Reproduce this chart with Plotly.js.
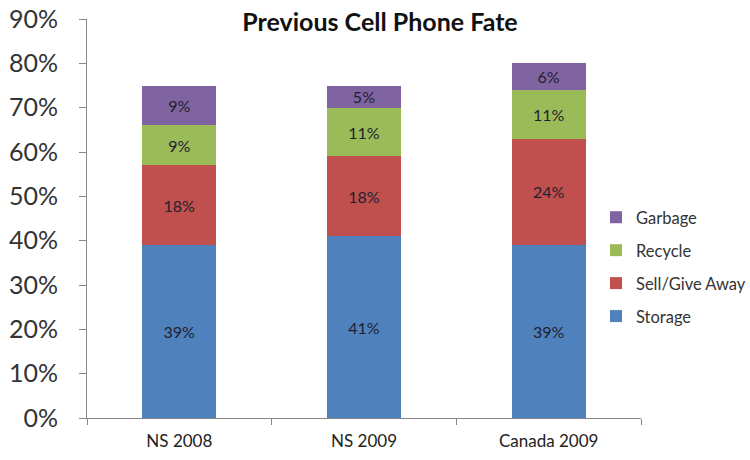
<!DOCTYPE html>
<html>
<head>
<meta charset="utf-8">
<script src="https://cdn.plot.ly/plotly-3.0.1.min.js"></script>
<style>
  html, body { margin: 0; padding: 0; background: #fff; }
  #chart { width: 750px; height: 460px; }
</style>
</head>
<body>
<div id="chart"></div>
<script>
// Survey groups along the x axis
const groups = ['NS 2008', 'NS 2009', 'Canada 2009'];

// Share of respondents (%) per fate of the previous phone
const storage  = [39, 41, 39];
const sellGive = [18, 18, 24];
const recycle  = [9, 11, 11];
const garbage  = [9, 5, 6];

const seriesNames = ['Storage', 'Sell/Give Away', 'Recycle', 'Garbage'];
const seriesValues = [storage, sellGive, recycle, garbage];
const seriesColors = ['#4F81BD', '#C0504D', '#9BBB59', '#8064A2'];

const FONT = 'Lato, "Open Sans", "Noto Sans", sans-serif';

const traces = seriesNames.map((name, i) => ({
  type: 'bar',
  name: name,
  x: groups,
  y: seriesValues[i],
  legendgroup: name,
  // top segment first in the legend
  legendrank: seriesNames.length - i,
  marker: { color: seriesColors[i], line: { width: 0 } },
  text: seriesValues[i].map(v => v + '%'),
  textposition: 'inside',
  insidetextanchor: 'middle',
  textangle: 0,
  textfont: { family: FONT, size: 16, color: '#1f1f2e' },
  hoverinfo: 'skip'
}));

const layout = {
  width: 750,
  height: 460,
  barmode: 'stack',
  bargap: 0.6,
  paper_bgcolor: '#ffffff',
  plot_bgcolor: '#ffffff',
  margin: { l: 87, r: 109, t: 19, b: 42, autoexpand: false },
  font: { family: FONT, color: '#333333' },
  uniformtext: { mode: 'show', minsize: 16 },
  title: {
    text: '<b>Previous Cell Phone Fate</b>',
    font: { family: FONT, size: 25, color: '#111111' },
    x: 380 / 750,
    xanchor: 'center',
    xref: 'container',
    y: 1 - 22 / 460,
    yanchor: 'middle',
    yref: 'container'
  },
  xaxis: {
    type: 'category',
    showgrid: false,
    showline: true,
    linecolor: '#868686',
    linewidth: 1,
    ticks: 'outside',
    tickson: 'boundaries',
    ticklen: 6,
    tickcolor: '#868686',
    tickfont: { family: FONT, size: 17, color: '#222222' },
    ticklabelstandoff: 8,
    zeroline: false
  },
  yaxis: {
    range: [0, 90],
    dtick: 10,
    tick0: 0,
    ticksuffix: '%',
    showgrid: false,
    showline: true,
    linecolor: '#868686',
    linewidth: 1,
    ticks: 'outside',
    ticklen: 7,
    tickcolor: '#868686',
    tickfont: { family: FONT, size: 25, color: '#333333' },
    ticklabelstandoff: 16,
    zeroline: false
  },
  showlegend: true,
  legend: {
    traceorder: 'grouped',
    tracegroupgap: 8.5,
    xref: 'container',
    yref: 'container',
    x: 596 / 750,
    xanchor: 'left',
    y: 1 - 200 / 460,
    yanchor: 'top',
    font: { family: FONT, size: 16.5, color: '#333333' },
    itemwidth: 30,
    bgcolor: 'rgba(0,0,0,0)'
  }
};

Plotly.newPlot('chart', traces, layout, { staticPlot: true, displayModeBar: false });
</script>
</body>
</html>
